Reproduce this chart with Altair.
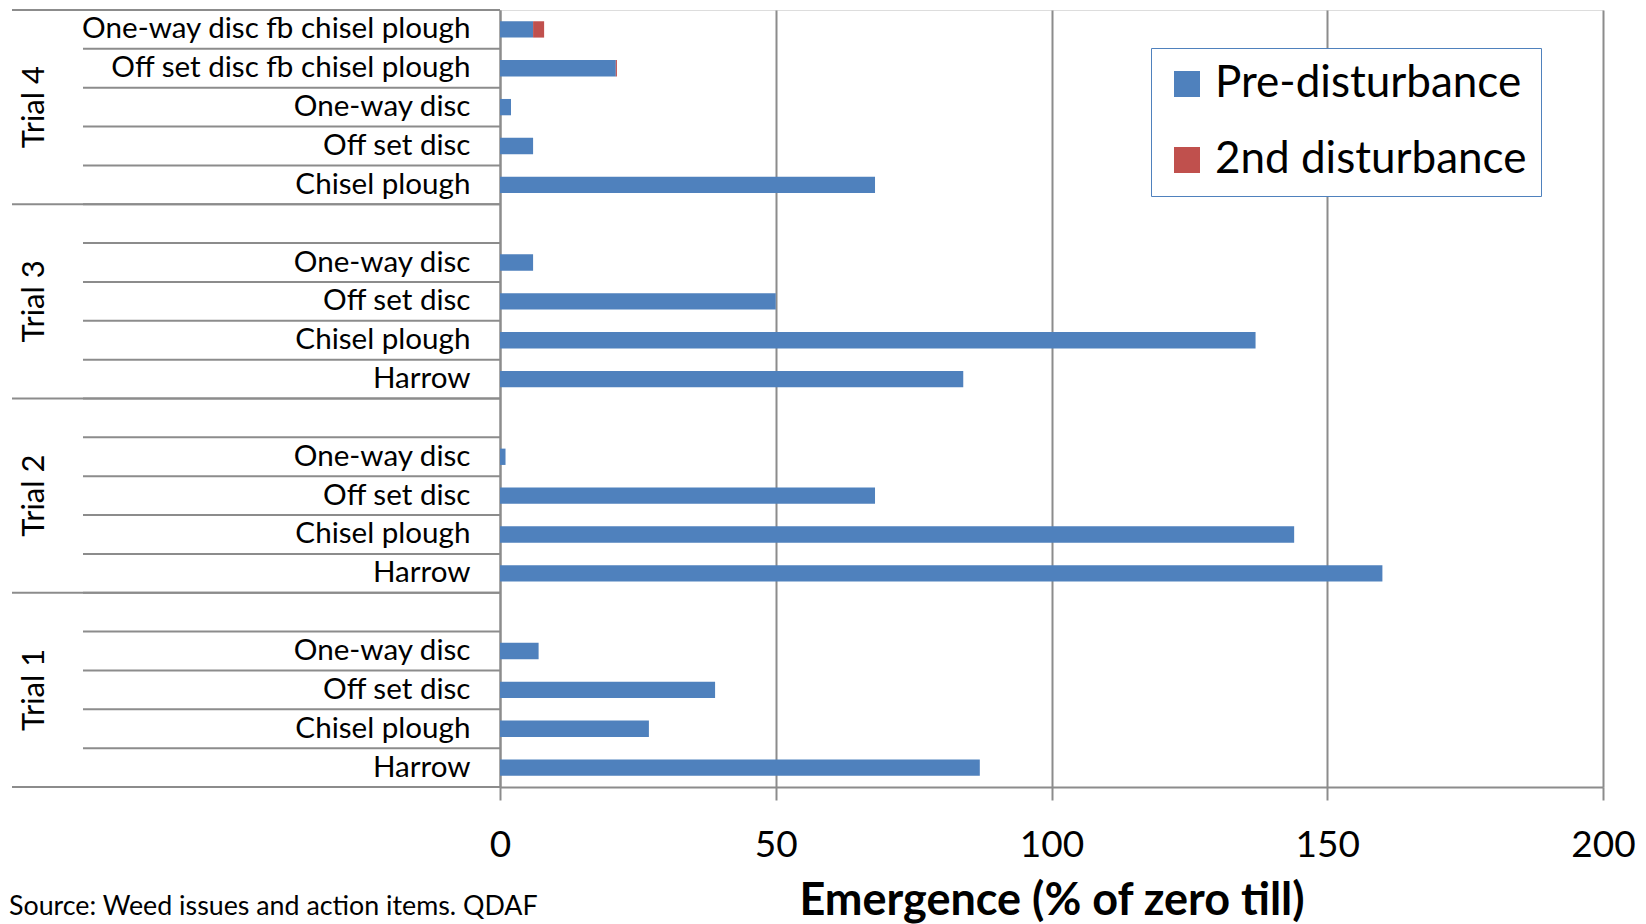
import altair as alt
import pandas as pd

# ---- data ----
trials = ["Trial 4"] * 5 + ["Trial 3"] * 5 + ["Trial 2"] * 5 + ["Trial 1"] * 5
treatments = [
    "One-way disc fb chisel plough", "Off set disc fb chisel plough", "One-way disc", "Off set disc", "Chisel plough",
    "", "One-way disc", "Off set disc", "Chisel plough", "Harrow",
    "", "One-way disc", "Off set disc", "Chisel plough", "Harrow",
    "", "One-way disc", "Off set disc", "Chisel plough", "Harrow",
]
pre_disturbance = [6, 21, 2, 6, 68, 0, 6, 50, 137, 84, 0, 1, 68, 144, 160, 0, 7, 39, 27, 87]
second_disturbance = [2, 0.2, 0, 0, 0, 0, 0, 0, 0, 0, 0, 0, 0, 0, 0, 0, 0, 0, 0, 0]
series_names = ["Pre-disturbance", "2nd disturbance"]
series_colors = ["#4F81BD", "#C0504D"]
x_ticks = [0, 50, 100, 150, 200]
source_text = "Source: Weed issues and action items. QDAF"
x_title = "Emergence (% of zero till)"

keys = [f"{i:02d}|{t}" for i, t in enumerate(treatments)]
order = keys

rows = []
for k, tr, a, b in zip(keys, trials, pre_disturbance, second_disturbance):
    if a:
        rows.append({"key": k, "trial": tr, "series": series_names[0], "value": a, "ord": 0})
    if b:
        rows.append({"key": k, "trial": tr, "series": series_names[1], "value": b, "ord": 1})
bars_df = pd.DataFrame(rows)

all_rows = pd.DataFrame({"key": keys, "trial": trials})
group_tops = all_rows.iloc[[0, 5, 10, 15]]
trial_mid = all_rows.iloc[[2, 7, 12, 17]]

W, H = 1103, 777
FONT = "Lato"
GRID = "#8C8C8C"
P_IN, P_OUT = 0.58, 0.29
STEP = H / len(keys)
ROW_SHIFT = -P_OUT * STEP  # from band start back to the row boundary

bars = alt.Chart(bars_df).mark_bar().encode(
    x=alt.X("value:Q", stack="zero",
            scale=alt.Scale(domain=[0, 200], nice=False),
            axis=alt.Axis(values=x_ticks, grid=True, gridColor=GRID, gridWidth=2,
                          domainColor=GRID, domainWidth=2, tickColor=GRID, tickWidth=2,
                          tickSize=13, labelFontSize=37, labelFont=FONT, labelColor="black",
                          labelFlush=False, labelPadding=27, title=x_title, titleFont=FONT,
                          titleFontSize=45, titleFontWeight="bold", titleColor="black",
                          titlePadding=15)),
    y=alt.Y("key:N", sort=order, scale=alt.Scale(paddingInner=P_IN, paddingOuter=P_OUT),
            axis=alt.Axis(title=None, ticks=False, grid=False, domainColor=GRID, domainWidth=2,
                          labelExpr="split(datum.value, '|')[1]", labelFontSize=29.6,
                          labelFont=FONT, labelColor="black", labelPadding=30, labelLimit=1000)),
    color=alt.Color("series:N", scale=alt.Scale(domain=series_names, range=series_colors),
                    legend=alt.Legend(title=None, orient="none", legendX=651, legendY=38,
                                      fillColor="white", strokeColor="#4F81BD",
                                      padding=14, rowPadding=32, symbolType="square",
                                      symbolSize=676, symbolStrokeWidth=0, labelFontSize=44,
                                      labelFont=FONT, labelColor="black", labelOffset=6,
                                      labelLimit=1000)),
    order=alt.Order("ord:Q"),
)

row_lines = alt.Chart(all_rows).mark_rule(color=GRID, strokeWidth=2, yOffset=ROW_SHIFT).encode(
    y=alt.Y("key:N", sort=order, bandPosition=0), x=alt.value(-417), x2=alt.value(0)
)
group_lines = alt.Chart(group_tops).mark_rule(color=GRID, strokeWidth=2, yOffset=ROW_SHIFT).encode(
    y=alt.Y("key:N", sort=order, bandPosition=0), x=alt.value(-488), x2=alt.value(0)
)
bottom_line = alt.Chart(pd.DataFrame({"a": [0]})).mark_rule(color=GRID, strokeWidth=2).encode(
    y=alt.value(H), x=alt.value(-488), x2=alt.value(0)
)
trial_labels = alt.Chart(trial_mid).mark_text(
    angle=270, align="center", baseline="middle", fontSize=31, font=FONT, color="black"
).encode(y=alt.Y("key:N", sort=order), x=alt.value(-465), text="trial:N")
source = alt.Chart(pd.DataFrame({"t": [source_text]})).mark_text(
    align="left", baseline="middle", fontSize=26.8, font=FONT, color="black"
).encode(x=alt.value(-491), y=alt.value(897), text="t:N")

chart = alt.layer(row_lines, group_lines, bottom_line, bars, trial_labels, source).properties(
    width=W, height=H, autosize="none",
    padding={"left": 492, "top": 2, "right": 35, "bottom": 145},
).configure_view(stroke=None).configure_legend(strokeWidth=2).configure(background="white")

chart.save("out.html", embed_options={"renderer": "svg", "actions": False})
